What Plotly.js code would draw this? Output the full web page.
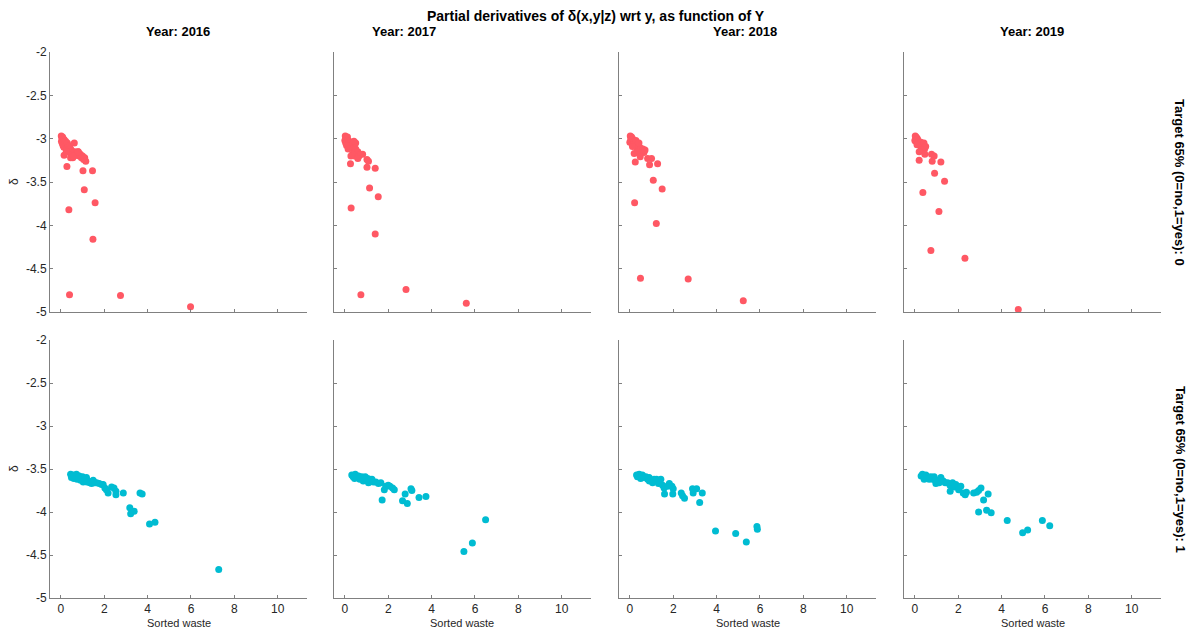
<!DOCTYPE html>
<html>
<head>
<meta charset="utf-8">
<script src="https://cdn.plot.ly/plotly-3.0.1.min.js"></script>
<style>html,body{margin:0;padding:0;background:#fff;}#chart{width:1192px;height:634px;}</style>
</head>
<body>
<div id="chart"></div>
<script>
// ---------- DATA ----------
const years = ["2016", "2017", "2018", "2019"];
const groupLabels = ["Target 65% (0=no,1=yes): 0", "Target 65% (0=no,1=yes): 1"];
const yTickVals = [-5, -4.5, -4, -3.5, -3, -2.5, -2];
const yTickText = ["-5", "-4.5", "-4", "-3.5", "-3", "-2.5", "-2"];
const xTickVals = [0, 2, 4, 6, 8, 10];
const xTickText = ["0", "2", "4", "6", "8", "10"];

// Target = 0 (red)
const x2016_t0 = [0.02,0.05,0.08,0.10,0.12,0.03,0.06,0.15,0.18,0.20,0.22,0.25,0.10,0.14,0.28,0.30,0.32,0.35,0.38,0.40,0.42,0.45,0.48,0.50,0.55,0.60,0.62,0.65,0.70,0.75,0.80,0.85,0.90,0.95,1.00,1.05,1.10,1.15,0.55,0.45,0.15,0.25,0.57,0.80,1.02,1.46,0.28,1.08,1.58,0.37,1.48,0.40,2.75,5.98];
const y2016_t0 = [-2.97,-2.99,-2.98,-3.00,-3.02,-3.03,-3.05,-3.01,-3.04,-3.06,-3.03,-3.08,-3.08,-3.10,-3.10,-3.05,-3.12,-3.08,-3.14,-3.10,-3.16,-3.12,-3.18,-3.14,-3.17,-3.20,-3.05,-3.15,-3.19,-3.17,-3.15,-3.20,-3.18,-3.22,-3.20,-3.24,-3.22,-3.26,-3.22,-3.22,-3.19,-3.15,-3.20,-3.15,-3.37,-3.37,-3.32,-3.59,-3.74,-3.82,-4.16,-4.80,-4.81,-4.94];

const x2017_t0 = [0.02,0.05,0.08,0.12,0.00,0.04,0.10,0.15,0.18,0.20,0.22,0.25,0.28,0.30,0.35,0.38,0.42,0.45,0.50,0.55,0.60,0.65,0.70,0.45,0.35,0.28,0.08,0.15,0.50,0.42,0.60,0.82,1.02,1.09,0.26,1.02,1.40,1.14,1.54,0.29,1.40,0.74,2.82,5.60];
const y2017_t0 = [-2.97,-2.99,-3.00,-2.98,-3.02,-3.05,-3.04,-3.02,-3.06,-3.03,-3.08,-3.05,-3.10,-3.07,-3.05,-3.12,-3.10,-3.15,-3.12,-3.18,-3.15,-3.20,-3.18,-3.20,-3.18,-3.20,-3.08,-3.12,-3.05,-3.03,-3.23,-3.18,-3.24,-3.26,-3.29,-3.33,-3.34,-3.57,-3.67,-3.80,-4.10,-4.80,-4.74,-4.90];

const x2018_t0 = [0.02,0.05,0.08,0.12,0.00,0.04,0.10,0.15,0.18,0.20,0.22,0.25,0.28,0.30,0.35,0.38,0.42,0.45,0.50,0.55,0.60,0.65,0.70,0.35,0.12,0.42,0.20,0.48,0.25,0.82,1.00,0.91,1.28,1.08,1.49,0.22,1.22,0.49,2.69,5.23];
const y2018_t0 = [-2.97,-2.99,-2.98,-3.00,-3.04,-3.02,-3.05,-3.01,-3.06,-3.03,-3.08,-3.05,-3.02,-3.10,-3.07,-3.12,-3.09,-3.14,-3.11,-3.15,-3.12,-3.16,-3.13,-3.15,-3.09,-3.05,-3.17,-3.21,-3.27,-3.23,-3.23,-3.30,-3.29,-3.48,-3.58,-3.74,-3.98,-4.61,-4.62,-4.87];

const x2019_t0 = [0.02,0.05,0.08,0.12,0.00,0.04,0.10,0.15,0.18,0.20,0.22,0.25,0.28,0.30,0.35,0.38,0.42,0.45,0.50,0.32,0.10,0.20,0.20,0.46,0.77,0.89,0.80,1.20,0.91,1.37,0.37,1.11,0.74,2.31,4.77];
const y2019_t0 = [-2.97,-2.98,-2.99,-3.00,-3.02,-3.03,-3.01,-3.04,-3.03,-3.06,-3.05,-3.08,-3.04,-3.10,-3.07,-3.11,-3.05,-3.12,-3.09,-3.13,-3.07,-3.15,-3.25,-3.18,-3.18,-3.20,-3.26,-3.27,-3.40,-3.49,-3.62,-3.84,-4.29,-4.38,-4.97];

// Target = 1 (cyan)
const x2016_t1 = [0.45,0.49,0.57,0.65,0.72,0.75,0.85,0.91,1.00,1.03,1.10,1.18,1.26,1.34,1.42,1.49,1.57,1.65,1.77,1.88,1.95,2.03,2.10,2.18,2.34,2.45,2.54,2.54,2.88,3.65,3.75,3.18,3.22,3.38,4.09,4.34,7.28,0.60,0.80,1.20];
const y2016_t1 = [-3.56,-3.60,-3.57,-3.59,-3.56,-3.62,-3.58,-3.63,-3.59,-3.65,-3.61,-3.60,-3.64,-3.66,-3.67,-3.63,-3.66,-3.66,-3.67,-3.68,-3.68,-3.72,-3.74,-3.78,-3.71,-3.72,-3.76,-3.80,-3.78,-3.78,-3.79,-3.95,-4.02,-3.99,-4.14,-4.12,-4.67,-3.61,-3.61,-3.65];

const x2017_t1 = [0.32,0.38,0.48,0.54,0.63,0.69,0.78,0.85,0.94,1.00,1.09,1.15,1.25,1.32,1.43,1.55,1.66,1.82,1.89,2.00,2.08,2.20,2.28,1.72,2.66,2.88,2.78,3.05,3.09,3.42,3.74,5.49,5.88,6.49,0.45,0.70,1.05];
const y2017_t1 = [-3.57,-3.59,-3.56,-3.60,-3.58,-3.62,-3.59,-3.64,-3.59,-3.63,-3.66,-3.62,-3.62,-3.65,-3.65,-3.67,-3.66,-3.74,-3.70,-3.69,-3.70,-3.72,-3.74,-3.86,-3.87,-3.90,-3.79,-3.73,-3.75,-3.83,-3.82,-4.46,-4.36,-4.09,-3.61,-3.60,-3.61];

const x2018_t1 = [0.31,0.35,0.43,0.51,0.58,0.66,0.74,0.82,0.89,0.97,1.05,1.12,1.23,1.32,1.43,1.51,1.58,1.74,1.82,1.94,2.00,1.60,1.98,2.37,2.43,2.52,2.89,2.92,3.08,3.34,3.22,3.95,4.88,5.37,5.86,5.88,0.50,0.90];
const y2018_t1 = [-3.57,-3.59,-3.56,-3.59,-3.57,-3.60,-3.59,-3.62,-3.60,-3.63,-3.66,-3.62,-3.62,-3.67,-3.62,-3.69,-3.72,-3.70,-3.67,-3.70,-3.73,-3.79,-3.79,-3.78,-3.81,-3.84,-3.73,-3.78,-3.73,-3.78,-3.89,-4.22,-4.25,-4.35,-4.17,-4.20,-3.61,-3.64];

const x2019_t1 = [0.29,0.35,0.43,0.51,0.58,0.66,0.74,0.82,0.89,0.97,1.05,1.12,1.20,1.31,1.40,1.51,1.62,1.63,1.74,1.82,1.89,2.02,2.12,2.23,2.32,2.38,2.71,2.85,2.94,3.05,3.17,3.38,2.94,3.31,3.52,4.26,4.97,5.20,5.88,6.22,0.50,0.95];
const y2019_t1 = [-3.58,-3.56,-3.62,-3.57,-3.59,-3.62,-3.59,-3.62,-3.59,-3.67,-3.63,-3.66,-3.60,-3.64,-3.66,-3.66,-3.69,-3.76,-3.66,-3.71,-3.68,-3.74,-3.70,-3.78,-3.80,-3.77,-3.78,-3.77,-3.75,-3.72,-3.86,-3.79,-4.00,-3.98,-4.01,-4.10,-4.24,-4.21,-4.10,-4.16,-3.61,-3.63];

const seriesX = [[x2016_t0, x2017_t0, x2018_t0, x2019_t0], [x2016_t1, x2017_t1, x2018_t1, x2019_t1]];
const seriesY = [[y2016_t0, y2017_t0, y2018_t0, y2019_t0], [y2016_t1, y2017_t1, y2018_t1, y2019_t1]];
const colors = ["#FF5864", "#00BCD2"];

// ---------- LAYOUT ----------
const W = 1192, H = 634;
const colPx = [[50, 307], [334, 591], [619, 876], [904, 1161]];
const rowPx = [[52, 312], [340, 598]];
const FONT = "Liberation Sans, Arial, Helvetica, sans-serif";
const axisCol = "#808080";
const textCol = "#262626";

const traces = [];
const layout = {
  width: W, height: H,
  margin: {l: 0, r: 0, t: 0, b: 0},
  paper_bgcolor: "#fff", plot_bgcolor: "#fff",
  showlegend: false,
  font: {family: FONT, color: textCol, size: 12},
  annotations: []
};

for (let r = 0; r < 2; r++) {
  for (let c = 0; c < 4; c++) {
    const idx = r * 4 + c + 1;
    const suf = idx === 1 ? "" : String(idx);
    traces.push({
      type: "scatter", mode: "markers",
      x: seriesX[r][c], y: seriesY[r][c],
      xaxis: "x" + suf, yaxis: "y" + suf,
      marker: {color: colors[r], size: 7, line: {width: 0}},
      hoverinfo: "skip"
    });
    layout["xaxis" + suf] = {
      domain: [colPx[c][0] / W, colPx[c][1] / W],
      anchor: "y" + suf,
      range: [-0.5, 11.35],
      tickvals: xTickVals, ticktext: xTickText,
      showticklabels: r === 1,
      ticks: "inside", ticklen: 3, tickcolor: axisCol, tickwidth: 1,
      showline: true, linecolor: axisCol, linewidth: 1,
      showgrid: false, zeroline: false,
      tickfont: {size: 12, color: textCol, family: FONT}
    };
    layout["yaxis" + suf] = {
      domain: [1 - rowPx[r][1] / H, 1 - rowPx[r][0] / H],
      anchor: "x" + suf,
      range: [-5, -2],
      tickvals: yTickVals, ticktext: yTickText,
      showticklabels: c === 0,
      ticks: "inside", ticklen: 3, tickcolor: axisCol, tickwidth: 1,
      showline: true, linecolor: axisCol, linewidth: 1,
      showgrid: false, zeroline: false,
      tickfont: {size: 12, color: textCol, family: FONT}
    };
  }
}

// Titles
layout.annotations.push({
  text: "<b>Partial derivatives of δ(x,y|z) wrt y, as function of Y</b>",
  xref: "paper", yref: "paper", x: 596 / W, y: 1 - 16 / H,
  showarrow: false, xanchor: "center", yanchor: "middle",
  font: {size: 14, color: "#000", family: FONT}
});
const yearX = [178, 404, 745, 1032];
years.forEach((yr, i) => {
  layout.annotations.push({
    text: "<b>Year: " + yr + "</b>",
    xref: "paper", yref: "paper", x: yearX[i] / W, y: 1 - 31 / H,
    showarrow: false, xanchor: "center", yanchor: "middle",
    font: {size: 13, color: "#000", family: FONT}
  });
  layout.annotations.push({
    text: "Sorted waste",
    xref: "paper", yref: "paper", x: ((colPx[i][0] + colPx[i][1]) / 2) / W, y: 1 - 623 / H,
    showarrow: false, xanchor: "center", yanchor: "middle",
    font: {size: 11, color: textCol, family: FONT}
  });
});
groupLabels.forEach((g, r) => {
  const cy = (rowPx[r][0] + rowPx[r][1]) / 2;
  layout.annotations.push({
    text: "<b>" + g + "</b>",
    xref: "paper", yref: "paper", x: 1180 / W, y: 1 - cy / H,
    showarrow: false, xanchor: "center", yanchor: "middle", textangle: 90,
    font: {size: 13, color: "#000", family: FONT}
  });
  layout.annotations.push({
    text: "δ",
    xref: "paper", yref: "paper", x: 14 / W, y: 1 - cy / H,
    showarrow: false, xanchor: "center", yanchor: "middle", textangle: -90,
    font: {size: 12, color: textCol, family: FONT}
  });
});

Plotly.newPlot("chart", traces, layout, {displayModeBar: false, staticPlot: true});
</script>
</body>
</html>
